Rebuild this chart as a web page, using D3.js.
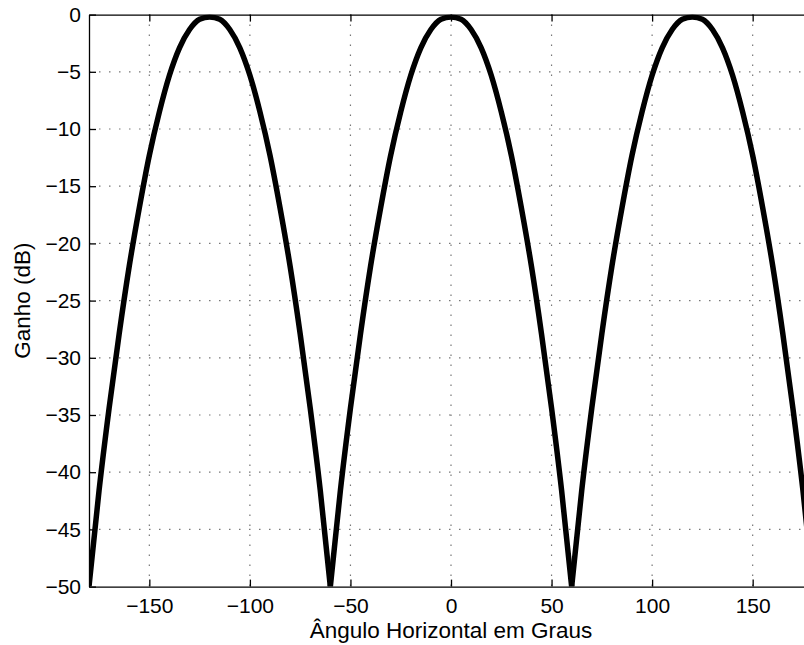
<!DOCTYPE html>
<html>
<head>
<meta charset="utf-8">
<script src="https://cdn.jsdelivr.net/npm/d3@7"></script>
<style>
  body { margin: 0; background: #fff; }
  svg { display: block; font-family: 'Liberation Sans', Arial, Helvetica, sans-serif; }
  .axis path, .axis line { stroke: #000; stroke-width: 1.3; }
  .axis text { font-size: 21px; fill: #000; }
  .grid line { stroke: #777; stroke-width: 1.2; stroke-dasharray: 1.5 8.5; }
  .label { font-size: 22.5px; fill: #000; }
</style>
</head>
<body>
<svg></svg>
<script>
/* global d3:true */

// horizontal angle (degrees)
const angles = [
  -180, -175, -170, -165, -160, -155, -150, -145, -140, -135, -130, -125,
  -120, -115, -110, -105, -100, -95, -90, -85, -80, -75, -70, -65,
  -60, -55, -50, -45, -40, -35, -30, -25, -20, -15, -10, -5,
  0, 5, 10, 15, 20, 25, 30, 35, 40, 45, 50, 55,
  60, 65, 70, 75, 80, 85, 90, 95, 100, 105, 110, 115,
  120, 125, 130, 135, 140, 145, 150, 155, 160, 165, 170, 175,
  180
]

// gain (dB)
const gain = [
  -50, -41.6, -34.4, -27.9, -22.0, -16.9, -12.3, -8.5, -5.3, -2.9, -1.3, -0.4,
  -0.2, -0.4, -1.3, -2.9, -5.3, -8.5, -12.3, -16.9, -22.0, -27.9, -34.4, -41.6,
  -50, -41.6, -34.4, -27.9, -22.0, -16.9, -12.3, -8.5, -5.3, -2.9, -1.3, -0.4,
  -0.2, -0.4, -1.3, -2.9, -5.3, -8.5, -12.3, -16.9, -22.0, -27.9, -34.4, -41.6,
  -50, -41.6, -34.4, -27.9, -22.0, -16.9, -12.3, -8.5, -5.3, -2.9, -1.3, -0.4,
  -0.2, -0.4, -1.3, -2.9, -5.3, -8.5, -12.3, -16.9, -22.0, -27.9, -34.4, -41.6,
  -50
]

// nulls split the pattern into lobes
const nulls = [-180, -60, 60, 180]

const xTicks = [-150, -100, -50, 0, 50, 100, 150]
const yTicks = [0, -5, -10, -15, -20, -25, -30, -35, -40, -45, -50]

const xLabel = 'Ângulo Horizontal em Graus'
const yLabel = 'Ganho (dB)'

const w = 804
const h = 645
// axes box (right edge falls just outside the picture)
const boxLeft = 89
const boxRight = 813
const boxTop = 14.6
const boxBottom = 586.6

const svg = d3.select('svg')
  .attr('width', w)
  .attr('height', h)

const x = d3.scaleLinear().domain([-180, 180]).range([boxLeft, boxRight])
const y = d3.scaleLinear().domain([-50, 0]).range([boxBottom, boxTop])

// dotted grid
const grid = svg.append('g').attr('class', 'grid')
grid.selectAll('.vx')
  .data(xTicks)
  .enter()
  .append('line')
  .attr('x1', d => x(d)).attr('x2', d => x(d))
  .attr('y1', boxTop).attr('y2', boxBottom)
grid.selectAll('.hy')
  .data(yTicks.slice(1, -1))
  .enter()
  .append('line')
  .attr('x1', boxLeft).attr('x2', boxRight)
  .attr('y1', d => y(d)).attr('y2', d => y(d))

// clip the curve to the axes box
svg.append('clipPath')
  .attr('id', 'plot-clip')
  .append('rect')
  .attr('x', boxLeft).attr('y', boxTop)
  .attr('width', boxRight - boxLeft).attr('height', boxBottom - boxTop)

const data = angles.map((a, i) => ({ a, g: gain[i] }))

const line = d3.line()
  .x(d => x(d.a))
  .y(d => y(d.g))
  .curve(d3.curveMonotoneX)

const lobes = d3.pairs(nulls)
  .map(([a0, a1]) => data.filter(d => d.a >= a0 && d.a <= a1))

svg.append('g')
  .attr('clip-path', 'url(#plot-clip)')
  .selectAll('path')
  .data(lobes)
  .enter()
  .append('path')
  .attr('d', line)
  .attr('fill', 'none')
  .attr('stroke', '#000')
  .attr('stroke-width', 5.5)
  .attr('stroke-linejoin', 'miter')

// axes box with inward ticks
svg.append('g')
  .attr('class', 'axis')
  .attr('transform', `translate(0, ${boxBottom})`)
  .call(d3.axisBottom(x).tickValues(xTicks).tickSizeInner(-7).tickSizeOuter(0).tickPadding(11))

svg.append('g')
  .attr('class', 'axis')
  .attr('transform', `translate(0, ${boxTop})`)
  .call(d3.axisTop(x).tickValues(xTicks).tickSizeInner(-7).tickSizeOuter(0).tickFormat(''))

svg.append('g')
  .attr('class', 'axis')
  .attr('transform', `translate(${boxLeft}, 0)`)
  .call(d3.axisLeft(y).tickValues(yTicks).tickSizeInner(-7).tickSizeOuter(0).tickPadding(8))

svg.append('g')
  .attr('class', 'axis')
  .attr('transform', `translate(${boxRight}, 0)`)
  .call(d3.axisRight(y).tickValues(yTicks).tickSizeInner(-7).tickSizeOuter(0).tickFormat(''))

// axis labels
svg.append('text')
  .attr('class', 'label')
  .attr('text-anchor', 'middle')
  .attr('x', (boxLeft + boxRight) / 2)
  .attr('y', 638)
  .text(xLabel)

svg.append('text')
  .attr('class', 'label')
  .attr('text-anchor', 'middle')
  .attr('transform', `translate(30, ${(boxTop + boxBottom) / 2})rotate(-90)`)
  .text(yLabel)
</script>
</body>
</html>
